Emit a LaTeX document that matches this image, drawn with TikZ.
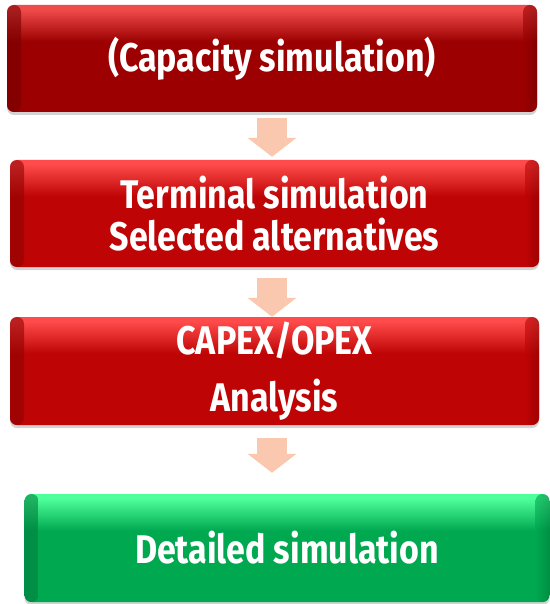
\documentclass[tikz,border=0pt]{standalone}
\usepackage{fontspec}
\setmainfont{Fira Sans}[FakeStretch=0.85]
\usetikzlibrary{arrows.meta,shadows}

\definecolor{darkred}{RGB}{156,0,0}
\definecolor{darkredtop}{RGB}{240,75,75}
\definecolor{mainred}{RGB}{190,4,4}
\definecolor{mainredtop}{RGB}{255,75,75}
\definecolor{maingreen}{RGB}{0,168,80}
\definecolor{maingreentop}{RGB}{78,255,155}
\definecolor{peach}{RGB}{250,200,174}
\colorlet{stagemain}{mainred}
\colorlet{stagetop}{mainredtop}

% brillo en el borde superior
\pgfdeclareverticalshading[stagetop,stagemain]{bevel}{100bp}{%
  color(0bp)=(stagemain); color(58bp)=(stagemain);
  color(73bp)=(stagetop); color(100bp)=(stagetop)}

\tikzset{
  stage/.style n args={2}{draw=none, rounded corners=7pt, minimum height=107pt,
    text=white, align=center, font=\bfseries\fontsize{40}{42}\selectfont,
    /utils/exec={\colorlet{stagemain}{#1}\colorlet{stagetop}{#2}},
    shading=bevel, drop shadow={opacity=0.35, shadow xshift=0pt, shadow yshift=-3pt},
    path picture={
      \shade[opacity=0.6, left color=#1!75!black, right color=#1]
        (path picture bounding box.north west) rectangle
        ([xshift=14pt]path picture bounding box.south west);
      \shade[opacity=0.6, right color=#1!75!black, left color=#1]
        ([xshift=-14pt]path picture bounding box.north east) rectangle
        (path picture bounding box.south east);
    }},
  flow/.style={draw=peach, line width=30pt,
    -{Triangle[width=48pt, length=19pt]}},
}

\begin{document}
\begin{tikzpicture}[x=1pt, y=-1pt]
  \useasboundingbox (0,0) rectangle (549,604);
  % las cuatro etapas
  \node[stage={darkred}{darkredtop}, minimum width=530pt] (b1) at (272,58.5)
    {(Capacity simulation)};
  \node[stage={mainred}{mainredtop}, minimum width=529pt] (b2) at (274.5,213.5)
    {Terminal simulation\\Selected alternatives};
  \node[stage={mainred}{mainredtop}, minimum width=529pt, minimum height=108pt,
    font=\bfseries\fontsize{40}{57}\selectfont] (b3) at (274.5,371)
    {CAPEX/OPEX\\Analysis};
  \node[stage={maingreen}{maingreentop}, minimum width=525pt, minimum height=108pt]
    (b4) at (287,548) {Detailed simulation};
  % flechas
  \draw[flow, shorten <=6pt, shorten >=3pt] (b1.south) -- (b2.north -| b1.south);
  \draw[flow, shorten <=11pt] (b2.south -| b1.south) -- (b3.north -| b1.south);
  \draw[flow, shorten <=13pt, shorten >=21pt] (b3.south -| b1.south) -- (b4.north -| b1.south);
\end{tikzpicture}
\end{document}
